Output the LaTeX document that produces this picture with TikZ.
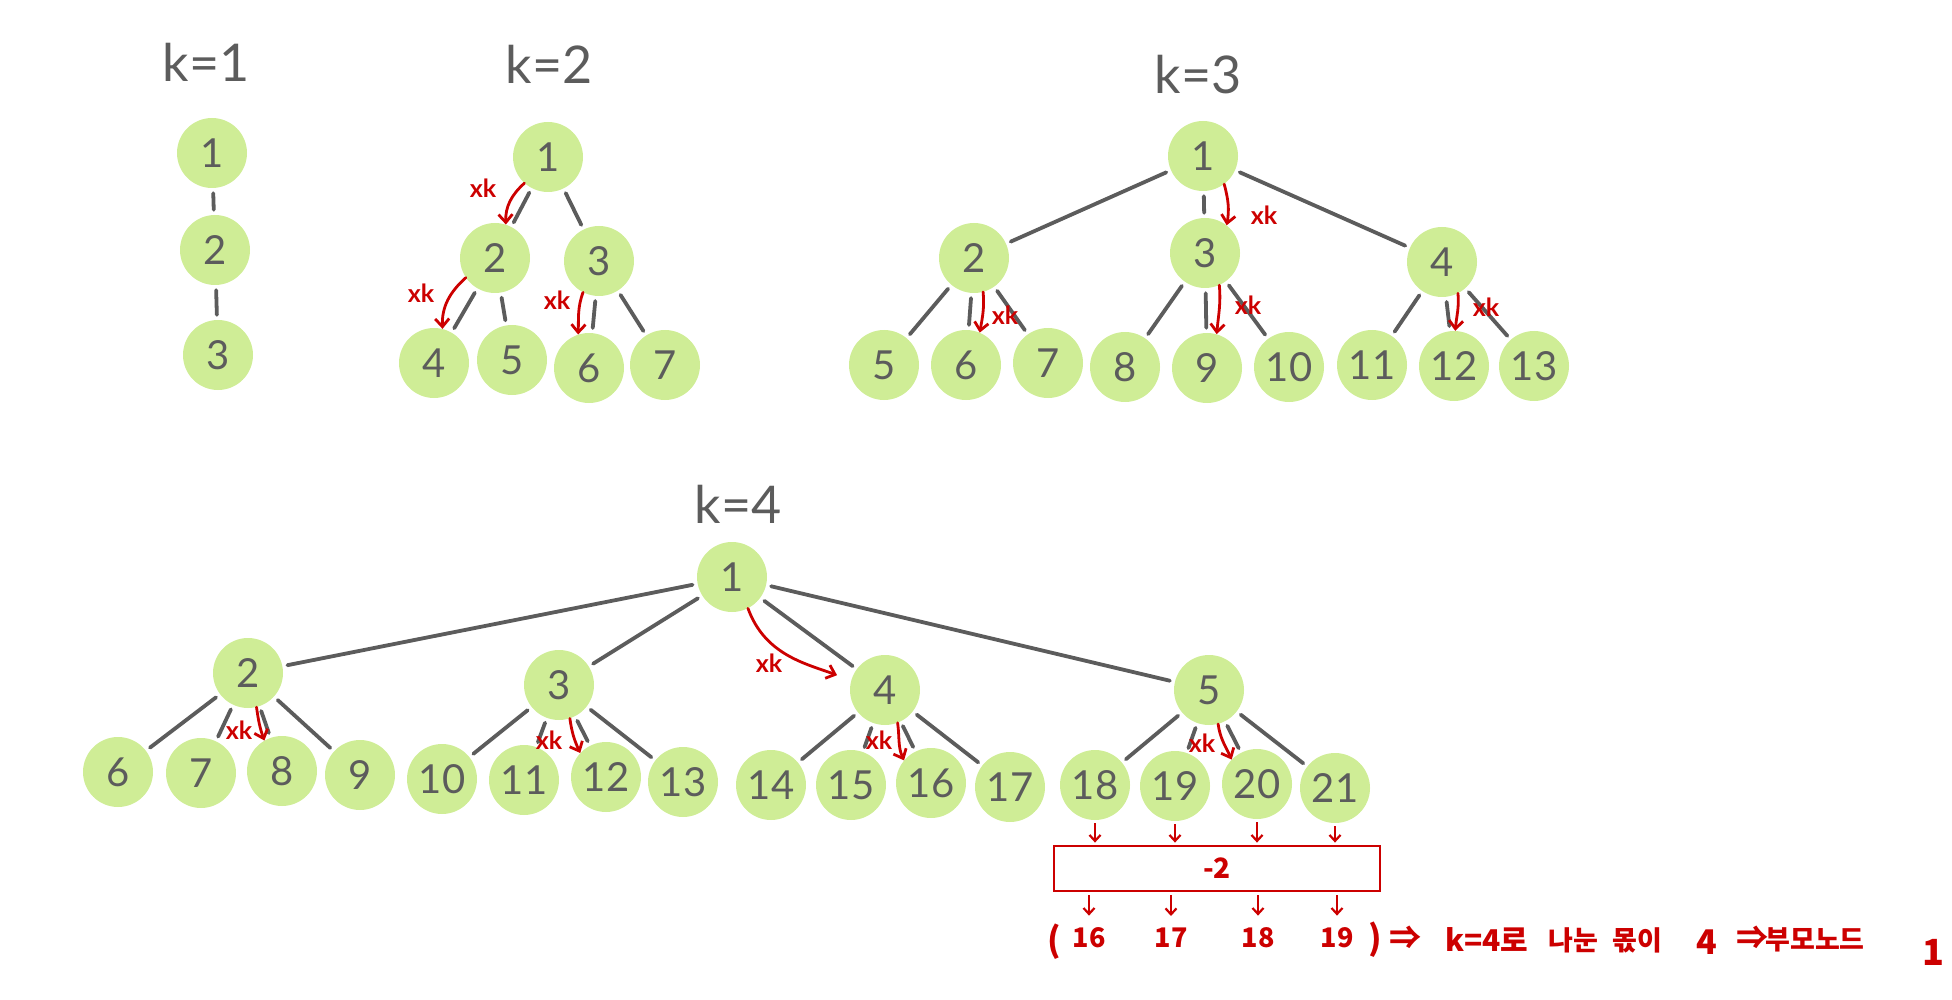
\documentclass[tikz,border=0pt]{standalone}
\usepackage{fontspec}
\setmainfont{Lato}
\newfontfamily\krfont{Noto Sans CJK KR}
\usetikzlibrary{arrows.meta}
\definecolor{nodegreen}{RGB}{207,237,150}
\definecolor{edgegray}{RGB}{92,92,92}
\definecolor{txtgray}{RGB}{92,92,92}
\definecolor{annred}{RGB}{204,0,0}
\tikzset{
  tn/.style={circle, fill=nodegreen, minimum size=70pt, inner sep=0pt, text=txtgray, font=\fontsize{40}{40}\selectfont},
  ed/.style={draw=edgegray, line width=3.8pt, line cap=round, shorten <=5pt, shorten >=5pt},
  rarr/.style={draw=annred, line width=2.8pt, line cap=round, -{Straight Barb[length=8pt,width=14pt,line width=2.8pt]}},
  rarrs/.style={draw=annred, line width=2.2pt, -{Straight Barb[length=6pt,width=11pt,line width=2.2pt]}},
  xk/.style={text=annred, font=\fontsize{25}{25}\selectfont\bfseries, inner sep=0pt},
  klabel/.style={text=txtgray, font=\fontsize{52}{52}\selectfont, inner sep=0pt},
  rtext/.style={text=annred, font=\krfont\bfseries\fontsize{27}{27}\selectfont, inner sep=0pt},
}
\begin{document}
\begin{tikzpicture}[x=1pt,y=1pt]
\useasboundingbox (0,0) rectangle (1952,-1000);

% ---------- k=1
\node[klabel] (lk1) at (206,-62) {k=1};
\node[tn] (a1) at (212,-153) {1};
\node[tn] (a2) at (215,-250) {2};
\node[tn] (a3) at (218,-355) {3};
\foreach \p/\c in {a1/a2,a2/a3} \draw[ed] (\p) -- (\c);

% ---------- k=2
\node[klabel] (lk2) at (549,-64) {k=2};
\node[tn] (b1) at (548,-157) {1};
\node[tn] (b2) at (495,-258) {2};
\node[tn] (b3) at (599,-261) {3};
\node[tn] (b4) at (434,-363) {4};
\node[tn] (b5) at (512,-360) {5};
\node[tn] (b6) at (589,-368) {6};
\node[tn] (b7) at (665,-365) {7};
\foreach \p/\c in {b1/b2,b1/b3,b2/b4,b2/b5,b3/b6,b3/b7} \draw[ed] (\p) -- (\c);
\draw[rarr] (b1.228) to[out=222,in=92] (b2.72);
\node[xk] (xb1) at (483,-188) {xk};
\draw[rarr] (b2.214) to[out=222,in=92] (b4.76);
\node[xk] (xb2) at (421,-293) {xk};
\draw[rarr] (b3.243) to[out=250,in=88] (b6.108);
\node[xk] (xb3) at (557,-300) {xk};

% ---------- k=3
\node[klabel] (lk3) at (1198,-75) {k=3};
\node[tn] (c1) at (1203,-156) {1};
\node[tn] (c2) at (974,-258) {2};
\node[tn] (c3) at (1205,-253) {3};
\node[tn] (c4) at (1442,-262) {4};
\node[tn] (c5) at (884,-365) {5};
\node[tn] (c6) at (966,-365) {6};
\node[tn] (c7) at (1048,-363) {7};
\node[tn] (c8) at (1125,-367) {8};
\node[tn] (c9) at (1207,-368) {9};
\node[tn] (c10) at (1289,-367) {10};
\node[tn] (c11) at (1372,-365) {11};
\node[tn] (c12) at (1454,-366) {12};
\node[tn] (c13) at (1534,-366) {13};
\foreach \p/\c in {c1/c2,c1/c3,c1/c4,c2/c5,c2/c6,c2/c7,c3/c8,c3/c9,c3/c10,c4/c11,c4/c12,c4/c13} \draw[ed] (\p) -- (\c);
\draw[rarr] (c1.307) to[out=-75,in=80] (c3.52);
\node[xk] (xc1) at (1264,-215) {xk};
\draw[rarr] (c2.285) to[out=-85,in=80] (c6.67);
\node[xk] (xc2) at (1005,-315) {xk};
\draw[rarr] (c3.294) to[out=-85,in=85] (c9.74);
\node[xk] (xc3) at (1248,-305) {xk};
\draw[rarr] (c4.297) to[out=-85,in=85] (c12.88);
\node[xk] (xc4) at (1486,-307) {xk};

% ---------- k=4
\node[klabel] (lk4) at (738,-504) {k=4};
\node[tn] (d1) at (732,-577) {1};
\node[tn] (d2) at (248,-673) {2};
\node[tn] (d3) at (559,-685) {3};
\node[tn] (d4) at (885,-690) {4};
\node[tn] (d5) at (1209,-690) {5};
\node[tn] (d6) at (118,-772) {6};
\node[tn] (d7) at (201,-773) {7};
\node[tn] (d8) at (282,-771) {8};
\node[tn] (d9) at (360,-775) {9};
\node[tn] (d10) at (442,-779) {10};
\node[tn] (d11) at (524,-780) {11};
\node[tn] (d12) at (606,-777) {12};
\node[tn] (d13) at (683,-782) {13};
\node[tn] (d14) at (771,-785) {14};
\node[tn] (d15) at (851,-785) {15};
\node[tn] (d16) at (931,-783) {16};
\node[tn] (d17) at (1010,-787) {17};
\node[tn] (d18) at (1095,-785) {18};
\node[tn] (d19) at (1175,-786) {19};
\node[tn] (d20) at (1257,-784) {20};
\node[tn] (d21) at (1335,-788) {21};
\foreach \p/\c in {d1/d2,d1/d3,d1/d4,d1/d5,d2/d6,d2/d7,d2/d8,d2/d9,d3/d10,d3/d11,d3/d12,d3/d13,d4/d14,d4/d15,d4/d16,d4/d17,d5/d18,d5/d19,d5/d20,d5/d21} \draw[ed] (\p) -- (\c);
\draw[rarr, shorten >=15pt] (d1.297) to[out=-70,in=160] (d4.164);
\node[xk] (xd1) at (769,-663) {xk};
\draw[rarr] (d2.284) to[out=-82,in=110] (d8.120);
\node[xk] (xd2) at (239,-730) {xk};
\draw[rarr] (d3.288) to[out=-82,in=115] (d12.137);
\node[xk] (xd3) at (549,-740) {xk};
\draw[rarr] (d4.291) to[out=-82,in=115] (d16.140);
\node[xk] (xd4) at (879,-740) {xk};
\draw[rarr] (d5.285) to[out=-82,in=115] (d20.136);
\node[xk] (xd5) at (1202,-743) {xk};

% ---------- box and result
\node[draw=annred, line width=2.8pt, minimum width=326pt, minimum height=45pt, inner sep=0pt,
      text=annred, font=\krfont\bfseries\fontsize{28}{28}\selectfont] (box) at (1217,-868.5) {-2};
\foreach \n in {d18,d19,d20,d21}
  \draw[rarrs, shorten <=3pt, shorten >=2pt] (\n.south) -- (\n.south |- box.north);

\node[rtext] (n16) at (1089,-938) {16};
\node[rtext] (n17) at (1171,-938) {17};
\node[rtext] (n18) at (1258,-938) {18};
\node[rtext] (n19) at (1337,-938) {19};
\foreach \n in {n16,n17,n18,n19}
  \draw[rarrs, shorten <=3pt, shorten >=12pt] (box.south -| \n) -- (\n.north);
\node[rtext, font=\krfont\bfseries\fontsize{34}{34}\selectfont] (lp) at (1054,-942) {(};
\node[rtext, font=\krfont\bfseries\fontsize{34}{34}\selectfont] (rp) at (1375,-940) {)};
\node[rtext, font=\krfont\bfseries\fontsize{32}{32}\selectfont] (t1) at (1405,-938) {⇒};
\node[rtext, font=\krfont\bfseries\fontsize{30}{30}\selectfont] (t2) at (1487,-940) {k=4로};
\node[rtext] (t3) at (1573,-940) {나눈};
\node[rtext] (t4) at (1637,-940) {몫이};
\node[rtext, font=\krfont\bfseries\fontsize{34}{34}\selectfont] (t5) at (1707,-942) {4};
\node[rtext, font=\krfont\bfseries\fontsize{32}{32}\selectfont] (t6) at (1752,-938) {⇒};
\node[rtext] (t7) at (1815,-940) {부모노드};
\node[rtext, font=\krfont\bfseries\fontsize{36}{36}\selectfont] (t8) at (1933,-952) {1};
\end{tikzpicture}
\end{document}
